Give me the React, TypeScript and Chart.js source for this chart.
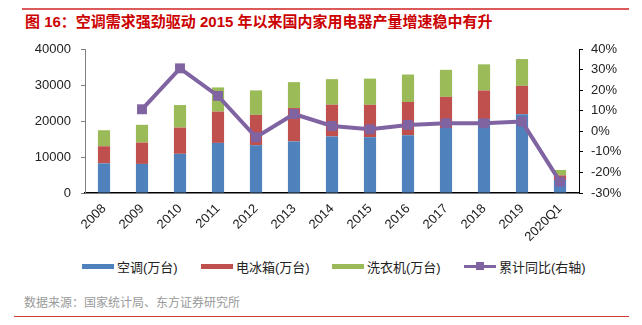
import React, { useEffect, useRef } from "react";
import { Chart, registerables } from "chart.js";

Chart.register(...registerables);

const categories = ["2008", "2009", "2010", "2011", "2012", "2013", "2014", "2015", "2016", "2017", "2018", "2019", "2020Q1"];
const airConditioner = [8231, 8078, 10887, 13912, 13281, 14333, 15716, 15500, 16049, 18040, 20486, 21866, 3600];
const fridge = [4757, 5930, 7296, 8699, 8427, 9261, 8796, 8993, 9238, 8670, 7993, 7904, 1300];
const washer = [4447, 4935, 6248, 6716, 6791, 7202, 7114, 7275, 7621, 7501, 7263, 7433, 1500];
const yoy = [null, 10.7, 30.6, 17.2, -2.9, 8.4, 2.6, 1.0, 3.1, 3.9, 3.9, 4.7, -24.5];

const seriesNames = ["空调(万台)", "电冰箱(万台)", "洗衣机(万台)", "累计同比(右轴)"];
const BLUE = "#4F81BD";
const RED = "#C0504D";
const GREEN = "#9BBB59";
const PURPLE = "#8064A2";

const FONT = '"Liberation Sans", Arial, "Noto Sans CJK SC", sans-serif';

export default function App() {
  const ref = useRef<HTMLCanvasElement>(null);

  useEffect(() => {
    if (!ref.current) return;
    const chart = new Chart(ref.current, {
      type: "bar",
      data: {
        labels: categories,
        datasets: [
          {
            type: "line",
            label: seriesNames[3],
            data: yoy as any,
            yAxisID: "y1",
            borderColor: PURPLE,
            backgroundColor: PURPLE,
            borderWidth: 4,
            pointStyle: "rect",
            pointRadius: 7,
            pointBackgroundColor: PURPLE,
            pointBorderColor: PURPLE,
            pointBorderWidth: 0,
            tension: 0,
            order: 0,
          } as any,
          { label: seriesNames[0], data: airConditioner, backgroundColor: BLUE, yAxisID: "y", stack: "s", order: 1 },
          { label: seriesNames[1], data: fridge, backgroundColor: RED, yAxisID: "y", stack: "s", order: 1 },
          { label: seriesNames[2], data: washer, backgroundColor: GREEN, yAxisID: "y", stack: "s", order: 1 },
        ],
      },
      options: {
        responsive: false,
        animation: false,
        devicePixelRatio: 1,
        layout: { padding: { top: 49, left: 0, right: 0, bottom: 0 } },
        datasets: { bar: { categoryPercentage: 1, barPercentage: 0.32 } } as any,
        plugins: { legend: { display: false }, tooltip: { enabled: false }, title: { display: false } },
        scales: {
          x: {
            stacked: true,
            grid: { display: false, drawTicks: false },
            border: { display: true, color: "#000", width: 1.5 },
            ticks: { minRotation: 45, maxRotation: 45, padding: 8, color: "#222", font: { family: FONT, size: 13 } },
            afterFit: (s: any) => { s.height = 57; },
          },
          y: {
            stacked: true,
            position: "left",
            min: 0,
            max: 40000,
            ticks: { stepSize: 5000, padding: 10, color: "#222", font: { family: FONT, size: 13 }, callback: (v: any) => String(v) },
            grid: { drawOnChartArea: false, drawTicks: true, tickLength: 4, color: "#808080" },
            border: { display: true, color: "#808080", width: 1 },
            afterFit: (s: any) => { s.width = 85; },
          },
          y1: {
            position: "right",
            min: -30,
            max: 40,
            ticks: { stepSize: 10, padding: 8, color: "#222", font: { family: FONT, size: 13 }, callback: (v: any) => v + "%" },
            grid: { drawOnChartArea: false, drawTicks: true, tickLength: 4, color: "#000" },
            border: { display: true, color: "#000", width: 1 },
            afterFit: (s: any) => { s.width = 63; },
          },
        },
      },
    });
    return () => chart.destroy();
  }, []);

  const legendItem = (color: string, text: string, left: number, isLine = false) => (
    <div style={{ position: "absolute", left, top: 257, height: 18, display: "flex", alignItems: "center", whiteSpace: "nowrap" }}>
      {isLine ? (
        <div style={{ position: "relative", width: 32, height: 10, marginRight: 3 }}>
          <div style={{ position: "absolute", left: 0, top: 3.5, width: 32, height: 3, background: color }} />
          <div style={{ position: "absolute", left: 12, top: 1, width: 8, height: 8, background: color }} />
        </div>
      ) : (
        <div style={{ width: 32, height: 5, background: color, marginRight: 3 }} />
      )}
      <span style={{ fontFamily: FONT, fontSize: 13, color: "#222" }}>{text}</span>
    </div>
  );

  return (
    <div style={{ position: "fixed", left: 0, top: 0, width: 642, height: 325, background: "#fff", overflow: "hidden" }}>
      <div style={{ position: "absolute", left: 22, top: 8, width: 607, height: 1.5, background: "#DC5A5A" }} />
      <div style={{ position: "absolute", left: 25, top: 13, fontFamily: FONT, fontSize: 15, fontWeight: "bold", color: "#CC0000", whiteSpace: "nowrap", lineHeight: "18px" }}>
        图 16：空调需求强劲驱动 2015 年以来国内家用电器产量增速稳中有升
      </div>
      <canvas ref={ref} width={642} height={250} style={{ position: "absolute", left: 0, top: 0, width: 642, height: 250 }} />
      {legendItem(BLUE, seriesNames[0], 82)}
      {legendItem(RED, seriesNames[1], 201)}
      {legendItem(GREEN, seriesNames[2], 332)}
      {legendItem(PURPLE, seriesNames[3], 464, true)}
      <div style={{ position: "absolute", left: 24, top: 295, fontFamily: FONT, fontSize: 12, color: "#9a9a9a", whiteSpace: "nowrap", lineHeight: "16px" }}>
        数据来源：国家统计局、东方证券研究所
      </div>
      <div style={{ position: "absolute", left: 14, top: 315.5, width: 615, height: 1.5, background: "#D33A3A" }} />
    </div>
  );
}
